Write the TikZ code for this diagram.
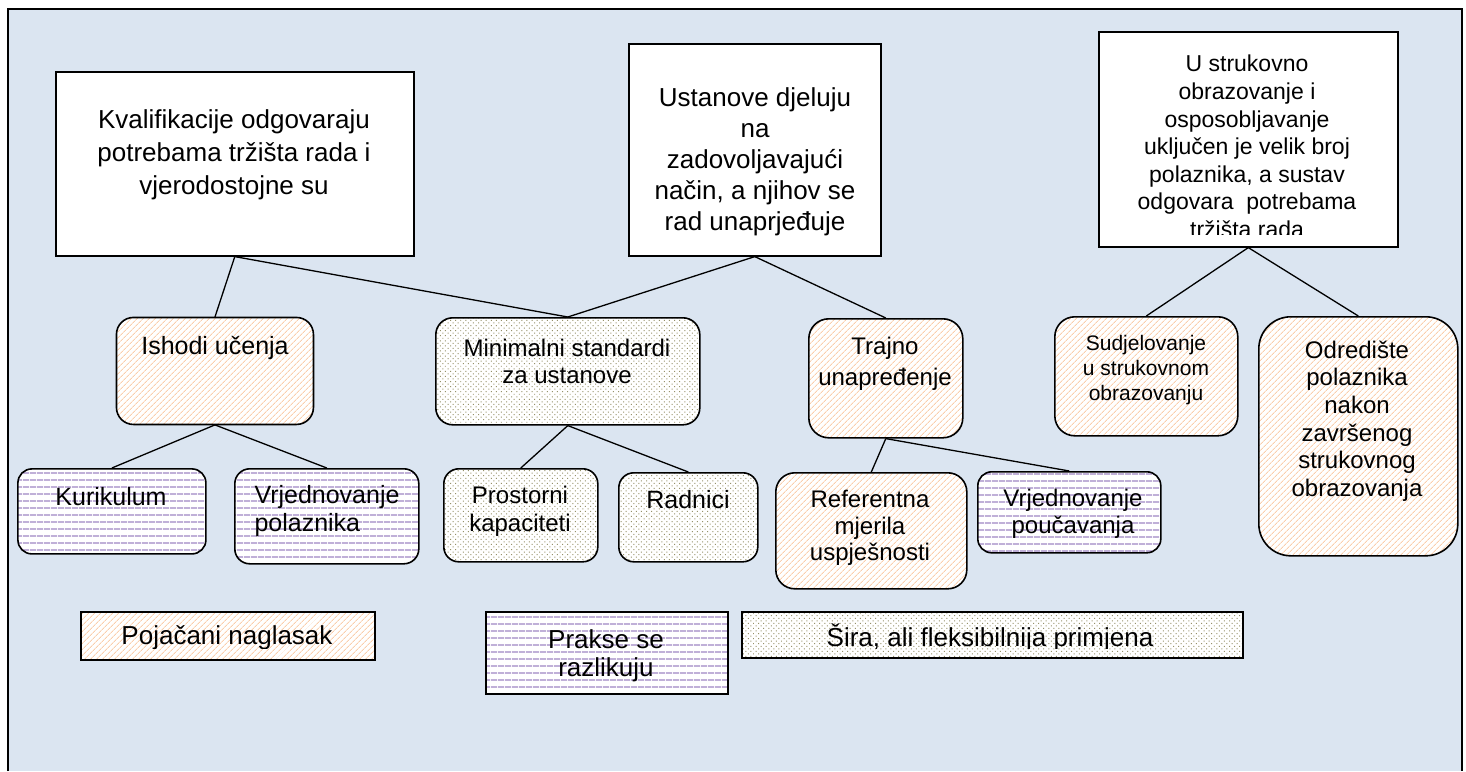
\documentclass[tikz,border=0pt]{standalone}
\usepackage{fontspec}
\setmainfont{Liberation Sans}
\usetikzlibrary{patterns,patterns.meta}
\definecolor{bgc}{RGB}{219,229,241}
\definecolor{hatchc}{RGB}{250,206,172}
\definecolor{linec}{RGB}{192,176,216}
\definecolor{dotc}{RGB}{150,145,105}
\tikzset{
  frame/.style={line width=2.4pt},
  plainbox/.style={draw=black, line width=1.6pt, fill=white, inner sep=0pt, anchor=north west},
  hatchbox/.style={draw=black, line width=1.6pt, inner sep=0pt, anchor=north west,
     preaction={fill=white}, pattern={Lines[angle=45,distance=4pt,line width=0.9pt]}, pattern color=hatchc},
  stripebox/.style={draw=black, line width=1.6pt, inner sep=0pt, anchor=north west,
     preaction={fill=white}, pattern={Lines[angle=0,distance=6.5pt,line width=1.8pt]}, pattern color=linec},
  dotbox/.style={draw=black, line width=1.6pt, inner sep=0pt, anchor=north west,
     preaction={fill=white}, pattern={Dots[distance=3.6pt,angle=45,radius=0.7pt]}, pattern color=dotc},
  conn/.style={line width=1.3pt},
  txt/.style={align=center, inner sep=0pt, text=black},
}
\newcommand{\fs}[2]{\fontsize{#1}{#2}\selectfont}
\begin{document}
\begin{tikzpicture}[x=1pt,y=-1pt]
\useasboundingbox (0,0) rectangle (1466,771);
\fill[bgc] (8,9) rectangle (1462,771);
\draw[frame] (8,771) -- (8,9) -- (1462,9) -- (1462,771);

% top level
\node[plainbox, minimum width=358pt, minimum height=184pt] (kval) at (55,71) {};
\node[plainbox, minimum width=252pt, minimum height=212pt] (ust) at (628,43) {};
\node[plainbox, minimum width=299pt, minimum height=215pt] (ustr) at (1098,31) {};

\node[txt, font=\fs{26}{33}] (kvalt) at (234,155) {Kvalifikacije odgovaraju\\potrebama tržišta rada i\\vjerodostojne su};
\node[txt, font=\fs{26}{31}] (ustt) at (755,162) {Ustanove djeluju\\na\\zadovoljavajući\\način, a njihov se\\rad unaprjeđuje};
\begin{scope}
\clip (1098,31) rectangle (1397,234);
\node[txt, font=\fs{23}{27.6}, anchor=north] (ustrt) at (1247,55) {U strukovno\\obrazovanje i\\osposobljavanje\\uključen je velik broj\\polaznika, a sustav\\odgovara\ \ potrebama\\tržišta rada};
\end{scope}

% second level
\node[hatchbox, rounded corners=17pt, minimum width=197pt, minimum height=107pt] (ishodi) at (116,317) {};
\node[dotbox, rounded corners=17pt, minimum width=264pt, minimum height=107pt] (minim) at (435,317) {};
\node[hatchbox, rounded corners=20pt, minimum width=154pt, minimum height=119pt] (trajno) at (808,318) {};
\node[hatchbox, rounded corners=20pt, minimum width=183pt, minimum height=119pt] (sudj) at (1054,316) {};
\node[hatchbox, rounded corners=32pt, minimum width=199pt, minimum height=239pt] (odred) at (1258,316) {};

\node[txt, font=\fs{25}{28}] (ishodit) at (215,348) {Ishodi učenja};
\node[txt, font=\fs{24}{27}] (minimt) at (567,361.5) {Minimalni standardi\\za ustanove};
\node[txt, font=\fs{24}{31}] (trajnot) at (885,364) {Trajno\\unapređenje};
\node[txt, font=\fs{21}{25}] (sudjt) at (1146,370) {Sudjelovanje\\u strukovnom\\obrazovanju};
\node[txt, font=\fs{24}{27.6}] (odredt) at (1357,421) {Odredište\\polaznika\\nakon\\završenog\\strukovnog\\obrazovanja};

% third level
\node[stripebox, rounded corners=14pt, minimum width=188pt, minimum height=85pt] (kurik) at (17,468) {};
\node[stripebox, rounded corners=15pt, minimum width=184pt, minimum height=95pt] (vrjpol) at (234,468) {};
\node[dotbox, rounded corners=15pt, minimum width=154pt, minimum height=93pt] (prost) at (443,468) {};
\node[dotbox, rounded corners=15pt, minimum width=139pt, minimum height=89pt] (radn) at (618,472) {};
\node[hatchbox, rounded corners=19pt, minimum width=191pt, minimum height=116pt] (refer) at (775,472) {};
\node[stripebox, rounded corners=14pt, minimum width=183pt, minimum height=81pt] (vrjpou) at (977,471) {};

\node[txt, font=\fs{25}{28}] (kurikt) at (111,497) {Kurikulum};
\node[txt, font=\fs{25}{28}, align=left] (vrjpolt) at (327,511) {Vrjednovanje\\polaznika};
\node[txt, font=\fs{24}{28}] (prostt) at (520,511) {Prostorni\\kapaciteti};
\node[txt, font=\fs{25}{28}] (radnt) at (688,500) {Radnici};
\node[txt, font=\fs{24}{26.5}] (refert) at (870,528) {Referentna\\mjerila\\uspješnosti};
\node[txt, font=\fs{24}{27}] (vrjpout) at (1073,513.5) {Vrjednovanje\\poučavanja};

% legend
\node[hatchbox, rounded corners=0pt, minimum width=294pt, minimum height=48pt] (leg1) at (80,611) {};
\node[stripebox, rounded corners=0pt, minimum width=242pt, minimum height=82pt] (leg2) at (485,611) {};
\node[dotbox, rounded corners=0pt, minimum width=501pt, minimum height=46pt] (leg3) at (741,611) {};
\begin{scope}
\clip (80,611) rectangle (374,648);
\node[txt, font=\fs{26}{30}] (leg1t) at (227,638) {Pojačani naglasak};
\end{scope}
\node[txt, font=\fs{26}{28}] (leg2t) at (606,656) {Prakse se\\razlikuju};
\begin{scope}
\clip (741,611) rectangle (1242,648);
\node[txt, font=\fs{26}{30}] (leg3t) at (990,638) {Šira, ali fleksibilnija primjena};
\end{scope}

% connectors
\draw[conn] (kval.south) -- (ishodi.north);
\draw[conn] (kval.south) -- (minim.north);
\draw[conn] (ust.south) -- (minim.north);
\draw[conn] (ust.south) -- (trajno.north);
\draw[conn] (ustr.south) -- (sudj.north);
\draw[conn] (ustr.south) -- (odred.north);
\draw[conn] (ishodi.south) -- (kurik.north);
\draw[conn] (ishodi.south) -- (vrjpol.north);
\draw[conn] (minim.south) -- (prost.north);
\draw[conn] (minim.south) -- (radn.north);
\draw[conn] (trajno.south) -- (refer.north);
\draw[conn] (trajno.south) -- (vrjpou.north);
\end{tikzpicture}
\end{document}
